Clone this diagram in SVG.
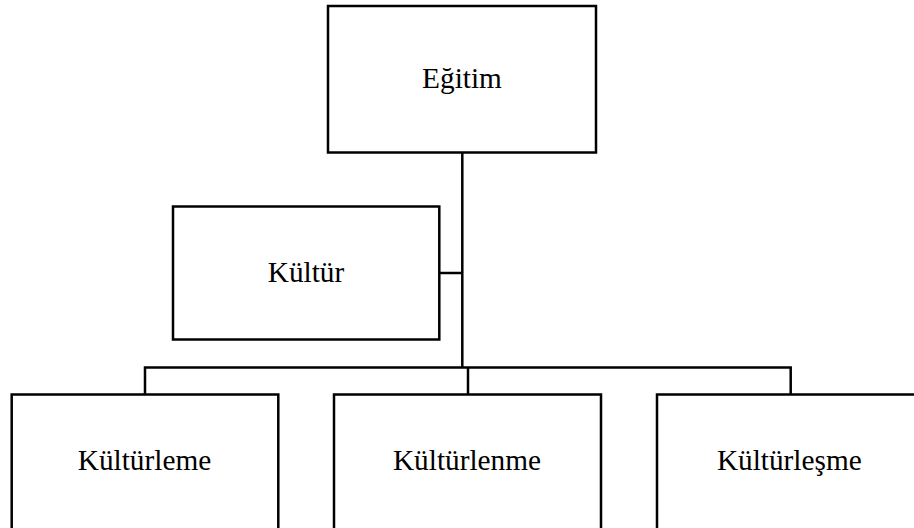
<svg xmlns="http://www.w3.org/2000/svg" width="914" height="528" viewBox="0 0 914 528">
<style>
.box{fill:#fff;stroke:#000;stroke-width:2.5}
.lbl{font-family:"Liberation Serif","Times New Roman",serif;font-size:29.3px;fill:#000;text-anchor:middle}
.con{fill:none;stroke:#000;stroke-width:2.5}
</style>
<rect width="914" height="528" fill="#fff"/>
<g id="connectors">
<path class="con" d="M462.3,152.5 V367.5"/>
<path class="con" d="M439.3,273 H462.3"/>
<path class="con" d="M145,394.5 V367.5 H790.7 V394.5"/>
<path class="con" d="M468,367.5 V394.5"/>
</g>
<g id="egitim">
<rect class="box" x="328" y="6" width="268" height="146.5"/>
<text class="lbl" x="462" y="88.3">Eğitim</text>
</g>
<g id="kultur">
<rect class="box" x="173" y="206.5" width="266.3" height="133"/>
<text class="lbl" x="306" y="282.3">Kültür</text>
</g>
<g id="kulturleme">
<rect class="box" x="11.7" y="394.5" width="266.6" height="160"/>
<text class="lbl" x="144.5" y="470">Kültürleme</text>
</g>
<g id="kulturlenme">
<rect class="box" x="334" y="394.5" width="267" height="160"/>
<text class="lbl" x="467" y="470">Kültürlenme</text>
</g>
<g id="kulturlesme">
<rect class="box" x="657" y="394.5" width="270" height="160"/>
<text class="lbl" x="789.3" y="470">Kültürleşme</text>
</g>
</svg>
